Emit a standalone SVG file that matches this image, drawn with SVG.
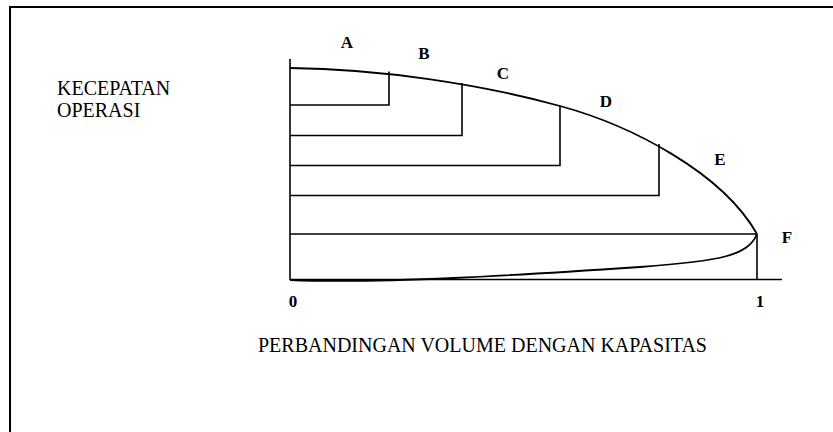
<svg xmlns="http://www.w3.org/2000/svg" width="833" height="432" viewBox="0 0 833 432">
  <style>
    .frame { fill: none; stroke: #000; stroke-width: 2; }
    .ln { fill: none; stroke: #000; stroke-width: 1.6; }
    .crv { fill: none; stroke: #000; stroke-width: 1.8; }
    .lbl { font-family: "Liberation Serif", "Times New Roman", serif; font-weight: bold; font-size: 17px; fill: #000; text-anchor: middle; }
    .txt { font-family: "Liberation Serif", "Times New Roman", serif; font-size: 20px; fill: #000; }
  </style>
  <rect width="833" height="432" fill="#fff"/>
  <!-- outer frame, running off the right and bottom edges -->
  <rect class="frame" x="10" y="7" width="840" height="440"/>

  <g id="axis-labels">
    <text class="txt" x="57" y="95">KECEPATAN</text>
    <text class="txt" x="57" y="117">OPERASI</text>
    <text class="txt" x="258" y="352">PERBANDINGAN VOLUME DENGAN KAPASITAS</text>
  </g>

  <g id="connectors">
    <!-- axes -->
    <line class="ln" x1="290" y1="59" x2="290" y2="280"/>
    <line class="ln" x1="290" y1="279.5" x2="782" y2="279.5"/>
    <!-- speed-volume curve -->
    <path class="crv" d="M290,68 C380,69 480,84 560,106 C630,125 722,172 757,234"/>
    <path class="crv" d="M757,234 C748,256 720,261 640,267 C520,275 380,284 290,280"/>
    <!-- operating levels -->
    <polyline class="ln" points="290,105 389,105 389,71.5"/>
    <polyline class="ln" points="290,135.5 462,135.5 462,83"/>
    <polyline class="ln" points="290,165.5 560,165.5 560,106"/>
    <polyline class="ln" points="290,195.5 659,195.5 659,144"/>
    <line class="ln" x1="290" y1="234" x2="757" y2="234"/>
    <line class="ln" x1="757" y1="234" x2="757" y2="280"/>
  </g>

  <g id="point-A"><text class="lbl" x="347" y="48">A</text></g>
  <g id="point-B"><text class="lbl" x="424" y="59">B</text></g>
  <g id="point-C"><text class="lbl" x="503" y="79">C</text></g>
  <g id="point-D"><text class="lbl" x="606" y="107">D</text></g>
  <g id="point-E"><text class="lbl" x="720" y="165">E</text></g>
  <g id="point-F"><text class="lbl" x="787" y="243">F</text></g>
  <g id="tick-0"><text class="lbl" x="293" y="307">0</text></g>
  <g id="tick-1"><text class="lbl" x="760" y="307">1</text></g>
</svg>
